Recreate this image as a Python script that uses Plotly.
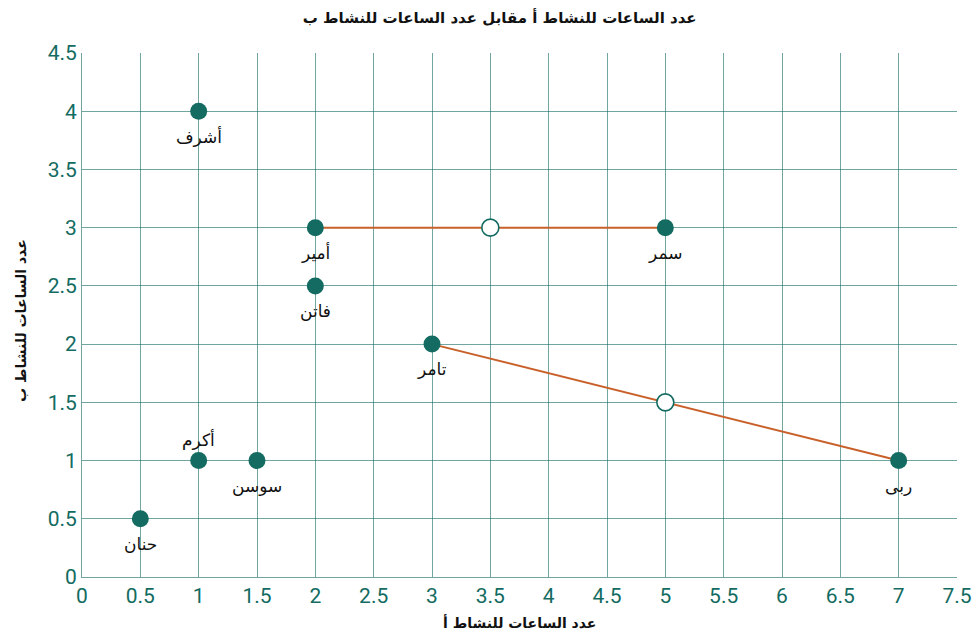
import plotly.graph_objects as go

# Students and their hours for activity A (x) and activity B (y)
names = ["حنان", "أكرم", "أشرف", "سوسن", "أمير", "فاتن", "تامر", "سمر", "ربى"]
hours_a = [0.5, 1, 1, 1.5, 2, 2, 3, 5, 7]
hours_b = [0.5, 1, 4, 1, 3, 2.5, 2, 3, 1]
label_above = [False, True, False, False, False, False, False, False, False]

# Segments joining pairs of students, with their midpoints
seg1_x = [2, 5]
seg1_y = [3, 3]
seg2_x = [3, 7]
seg2_y = [2, 1]
mid_x = [3.5, 5]
mid_y = [3, 1.5]

x_ticks = [0, 0.5, 1, 1.5, 2, 2.5, 3, 3.5, 4, 4.5, 5, 5.5, 6, 6.5, 7, 7.5]
y_ticks = [0, 0.5, 1, 1.5, 2, 2.5, 3, 3.5, 4, 4.5]

teal = "#136b61"
grid = "rgba(19,107,97,0.6)"
orange = "#c8602a"
label_font = "DejaVu Sans, Noto Sans"

fig = go.Figure()
for sx, sy in [(seg1_x, seg1_y), (seg2_x, seg2_y)]:
    fig.add_trace(go.Scatter(x=sx, y=sy, mode="lines",
                             line=dict(color=orange, width=2),
                             hoverinfo="skip", showlegend=False))
fig.add_trace(go.Scatter(x=mid_x, y=mid_y, mode="markers",
                         marker=dict(size=17, color="white",
                                     line=dict(color=teal, width=1.6)),
                         showlegend=False))
fig.add_trace(go.Scatter(x=hours_a, y=hours_b, mode="markers",
                         marker=dict(size=17, color=teal),
                         showlegend=False))

# Name labels under (or above) each point
for name, xa, yb, above in zip(names, hours_a, hours_b, label_above):
    fig.add_annotation(x=xa, y=yb, text=name, showarrow=False,
                       xanchor="center", yanchor="middle",
                       yshift=21 if above else -25,
                       font=dict(size=17, color="#111111", family=label_font))

# Axis titles
fig.add_annotation(x=0.5, y=-0.087, xref="paper", yref="paper",
                   text="<b>عدد الساعات للنشاط أ</b>", showarrow=False,
                   xanchor="center", yanchor="middle",
                   font=dict(size=14, color="#111111", family=label_font))
fig.add_annotation(x=-0.07, y=0.49, xref="paper", yref="paper",
                   text="<b>عدد الساعات للنشاط ب</b>", showarrow=False, textangle=-90,
                   xanchor="center", yanchor="middle",
                   font=dict(size=14, color="#111111", family=label_font))

fig.update_layout(
    width=974, height=641,
    margin=dict(l=82, r=17, t=53, b=64),
    paper_bgcolor="white", plot_bgcolor="white",
    title=dict(text="<b>عدد الساعات للنشاط أ مقابل عدد الساعات للنشاط ب</b>",
               x=0.513, xanchor="center", y=0.973, yanchor="middle",
               font=dict(size=15, color="#111111", family=label_font)),
    xaxis=dict(range=[0, 7.5], tickvals=x_ticks, ticktext=[f"{v:g}" for v in x_ticks],
               showgrid=True, gridcolor=grid, gridwidth=1, automargin=False,
               showline=True, linecolor=grid, linewidth=1, zeroline=False,
               tickfont=dict(size=21, color=teal, family="Roboto")),
    yaxis=dict(range=[0, 4.5], tickvals=y_ticks, ticktext=[f"{v:g}" for v in y_ticks],
               showgrid=True, gridcolor=grid, gridwidth=1, automargin=False,
               showline=True, linecolor=grid, linewidth=1, zeroline=False,
               tickfont=dict(size=21, color=teal, family="Roboto")),
)

fig.write_html("out.html")
